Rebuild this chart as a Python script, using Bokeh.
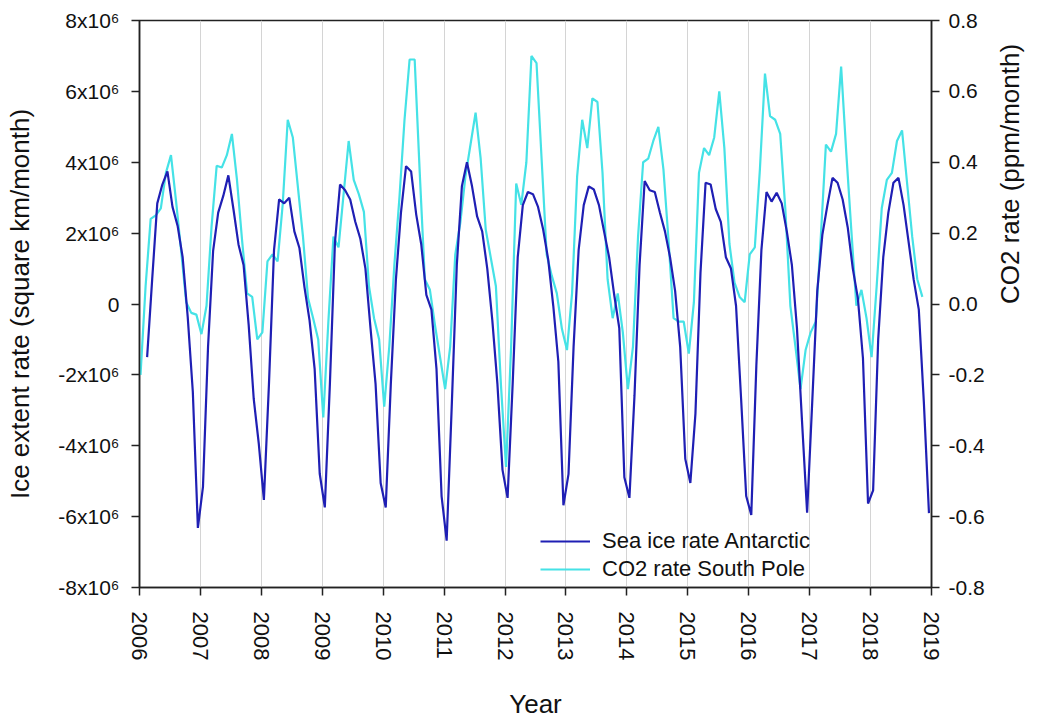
import math
import numpy as np
from bokeh.plotting import figure
from bokeh.models import (Range1d, LinearAxis, FixedTicker, Legend, LegendItem,
                          CustomJSTickFormatter)
from bokeh.embed import file_html
from bokeh.resources import INLINE

# ---------------- data ----------------
years = list(range(2006, 2020))
ice_first_month = 1.5   # months after start of 2006 of first ice-rate value
co2_first_month = 0.2   # months after start of 2006 of first CO2-rate value

# Sea ice extent rate, Antarctic (10^6 square km / month)
ice_rate_million = [
    -1.50, 0.70, 2.84, 3.37, 3.74, 2.74, 2.21, 1.32, -0.37, -2.47, -6.32, -5.16,
    -1.21, 1.50, 2.58, 3.05, 3.63, 2.68, 1.68, 1.10, -0.58, -2.68, -3.95, -5.53,
    -2.26, 1.53, 2.95, 2.84, 3.00, 2.05, 1.58, 0.47, -0.47, -1.84, -4.79, -5.74,
    -2.26, 1.74, 3.37, 3.21, 2.95, 2.32, 1.84, 1.00, -0.68, -2.26, -5.05, -5.74,
    -2.26, 0.68, 2.58, 3.89, 3.74, 2.53, 1.68, 0.26, -0.16, -1.84, -5.42, -6.68,
    -2.89, 1.10, 3.32, 4.00, 3.32, 2.47, 2.05, 1.00, -0.47, -2.26, -4.68, -5.47,
    -2.26, 1.32, 2.79, 3.16, 3.10, 2.74, 2.11, 1.26, -0.05, -1.63, -5.68, -4.80,
    -1.21, 1.53, 2.79, 3.32, 3.23, 2.79, 2.05, 1.32, 0.26, -0.68, -4.89, -5.47,
    -2.58, 1.10, 3.47, 3.21, 3.16, 2.58, 2.05, 1.32, 0.37, -1.21, -4.37, -5.05,
    -3.10, 0.89, 3.42, 3.37, 2.68, 2.32, 1.32, 1.00, -0.05, -2.68, -5.42, -5.95,
    -1.74, 1.53, 3.16, 2.89, 3.14, 2.84, 2.05, 1.10, -0.68, -3.32, -5.89, -2.79,
    0.37, 1.95, 2.79, 3.56, 3.42, 2.95, 2.16, 1.00, 0.16, -1.53, -5.63, -5.26,
    -1.00, 1.32, 2.58, 3.42, 3.56, 2.79, 1.74, 0.68, -0.16, -2.79, -5.90,
]

# CO2 rate, South Pole (ppm / month)
co2_rate = [
    -0.20, 0.05, 0.24, 0.25, 0.27, 0.37, 0.42, 0.29, 0.15, 0.005, -0.025, -0.03,
    -0.085, -0.005, 0.22, 0.39, 0.385, 0.42, 0.48, 0.35, 0.18, 0.03, 0.02, -0.10,
    -0.08, 0.12, 0.14, 0.12, 0.28, 0.52, 0.47, 0.33, 0.19, 0.016, -0.04, -0.10,
    -0.32, -0.05, 0.19, 0.16, 0.31, 0.46, 0.35, 0.31, 0.26, 0.05, -0.04, -0.10,
    -0.29, -0.12, 0.11, 0.30, 0.52, 0.69, 0.69, 0.37, 0.07, 0.04, -0.06, -0.15,
    -0.24, -0.12, 0.14, 0.23, 0.36, 0.45, 0.54, 0.41, 0.21, 0.13, 0.05, -0.23,
    -0.46, -0.12, 0.34, 0.28, 0.40, 0.70, 0.68, 0.41, 0.14, 0.08, 0.03, -0.07,
    -0.13, 0.03, 0.36, 0.52, 0.44, 0.58, 0.57, 0.37, 0.07, -0.04, 0.03, -0.08,
    -0.24, -0.12, 0.19, 0.40, 0.41, 0.46, 0.50, 0.38, 0.18, -0.04, -0.05, -0.05,
    -0.14, 0.005, 0.37, 0.44, 0.42, 0.47, 0.60, 0.44, 0.17, 0.06, 0.02, 0.005,
    0.14, 0.16, 0.38, 0.65, 0.53, 0.52, 0.48, 0.27, -0.005, -0.12, -0.24, -0.13,
    -0.08, -0.05, 0.19, 0.45, 0.43, 0.48, 0.67, 0.43, 0.21, -0.005, 0.04, -0.04,
    -0.15, 0.05, 0.27, 0.35, 0.37, 0.46, 0.49, 0.34, 0.19, 0.07, 0.02,
]

left_ticks = [-8e6, -6e6, -4e6, -2e6, 0, 2e6, 4e6, 6e6, 8e6]
right_ticks = [-0.8, -0.6, -0.4, -0.2, 0.0, 0.2, 0.4, 0.6, 0.8]

series_names = ["Sea ice rate Antarctic", "CO2 rate South Pole"]
ice_color = "#1f1fb4"
co2_color = "#45e2e6"

ice_x = 2006 + (ice_first_month + np.arange(len(ice_rate_million))) / 12.0
ice_y = np.array(ice_rate_million) * 1e6
co2_x = 2006 + (co2_first_month + np.arange(len(co2_rate))) / 12.0

FONT = "Liberation Sans"

p = figure(width=1042, height=722, output_backend="svg", toolbar_location=None,
           x_range=Range1d(2006, 2019), y_range=Range1d(-8e6, 8e6),
           min_border_left=139, min_border_right=111, min_border_top=20,
           min_border_bottom=132)
p.extra_y_ranges = {"co2": Range1d(-0.8, 0.8)}

p.outline_line_color = "#222222"
p.outline_line_width = 1.5
p.background_fill_color = "white"
p.border_fill_color = "white"

# grids
p.ygrid.visible = False
p.xgrid.ticker = FixedTicker(ticks=years)
p.xgrid.grid_line_color = "#d4d4d4"
p.xgrid.grid_line_width = 1

def style_axis(ax):
    ax.axis_line_color = "#222222"
    ax.axis_line_width = 1.5
    ax.major_tick_line_color = "#222222"
    ax.major_tick_line_width = 1.5
    ax.major_tick_in = 0
    ax.major_tick_out = 8
    ax.minor_tick_line_color = None
    ax.major_label_text_font = FONT
    ax.major_label_text_font_size = "21px"
    ax.major_label_text_color = "#111111"
    ax.axis_label_text_font = FONT
    ax.axis_label_text_font_size = "26px"
    ax.axis_label_text_font_style = "normal"
    ax.axis_label_text_color = "#111111"

# x axis
xa = p.xaxis[0]
style_axis(xa)
xa.ticker = FixedTicker(ticks=years)
xa.major_label_orientation = "vertical"
xa.major_label_text_font_size = "22px"
xa.major_label_standoff = 16
xa.axis_label = "Year"
xa.axis_label_standoff = 26

# left axis
ya = p.yaxis[0]
style_axis(ya)
ya.ticker = FixedTicker(ticks=left_ticks)
ya.formatter = CustomJSTickFormatter(code="""
if (Math.abs(tick) < 1) { return "0"; }
return (tick / 1e6).toFixed(0) + "x10\u2076";
""")
ya.major_label_standoff = 12
ya.axis_label = "Ice extent rate (square km/month)"
ya.axis_label_standoff = 20

# right axis
ra = LinearAxis(y_range_name="co2")
style_axis(ra)
ra.ticker = FixedTicker(ticks=right_ticks)
ra.formatter = CustomJSTickFormatter(code="return tick.toFixed(1);")
ra.major_label_standoff = 9
ra.axis_label = "CO2 rate (ppm/month)"
ra.axis_label_standoff = 22
ra.axis_label_orientation = math.pi / 2
p.add_layout(ra, "right")

r_ice = p.line(ice_x, ice_y, line_color=ice_color, line_width=2.2)
r_co2 = p.line(co2_x, co2_rate, line_color=co2_color, line_width=2.2,
               y_range_name="co2")
# ice drawn on top
p.renderers.remove(r_ice)
p.renderers.append(r_ice)

legend = Legend(items=[LegendItem(label=series_names[0], renderers=[r_ice]),
                       LegendItem(label=series_names[1], renderers=[r_co2])],
                location=(401, 5))
legend.border_line_color = None
legend.background_fill_alpha = 0
legend.padding = 0
legend.margin = 0
legend.spacing = 2
legend.glyph_width = 50
legend.glyph_height = 26
legend.label_height = 26
legend.label_standoff = 12
legend.label_text_font = FONT
legend.label_text_font_size = "22px"
legend.label_text_color = "#111111"
p.add_layout(legend)

open("out.html", "w").write(file_html(p, INLINE))
